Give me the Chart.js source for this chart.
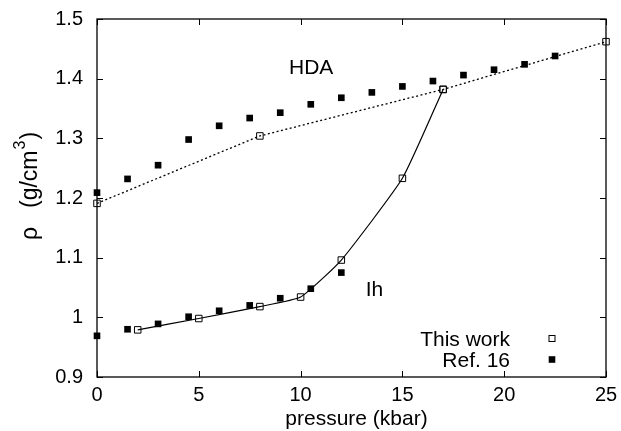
<!DOCTYPE html>
<html>
<head>
<meta charset="utf-8">
<script src="https://cdn.jsdelivr.net/npm/chart.js@4"></script>
<style>
  html, body { margin: 0; padding: 0; background: #ffffff; }
  #wrap { width: 621px; height: 431px; position: relative; }
</style>
</head>
<body>
<div id="wrap"><canvas id="c" width="621" height="431"></canvas></div>
<script>
// ---- data ----
const hdaThisWorkP   = [0, 8, 17, 25];
const hdaThisWorkRho = [1.191, 1.304, 1.382, 1.462];

const ihThisWorkP    = [2, 5, 8, 10, 12, 15, 17];
const ihThisWorkRho  = [0.979, 0.998, 1.018, 1.034, 1.096, 1.233, 1.382];

const ref16HdaP   = [0, 1.5, 3, 4.5, 6, 7.5, 9, 10.5, 12, 13.5, 15, 16.5, 18, 19.5, 21, 22.5];
const ref16HdaRho = [1.209, 1.232, 1.255, 1.298, 1.321, 1.334, 1.343, 1.357, 1.368, 1.377, 1.387, 1.396, 1.406, 1.415, 1.424, 1.438];

const ref16IhP   = [0, 1.5, 3, 4.5, 6, 7.5, 9, 10.5, 12];
const ref16IhRho = [0.969, 0.980, 0.989, 1.001, 1.011, 1.020, 1.032, 1.048, 1.075];

const xTickValues = [0, 5, 10, 15, 20, 25];
const xTickLabels = ['0', '5', '10', '15', '20', '25'];
const yTickValues = [0.9, 1.0, 1.1, 1.2, 1.3, 1.4, 1.5];
const yTickLabels = ['0.9', '1', '1.1', '1.2', '1.3', '1.4', '1.5'];

const legendLabels = ['This work', 'Ref. 16'];
const phaseLabels = ['HDA', 'Ih'];
const phaseLabelAt = [[9.43, 1.4075], [13.2, 1.0357]];   // data coords (kbar, g/cm3)

const xTitle = 'pressure (kbar)';

// ---- helpers ----
const FONT = '"Liberation Sans", Arial, Helvetica, sans-serif';
const pts = (xs, ys) => xs.map((x, i) => ({ x: x, y: ys[i] }));

function findLabel(list, values, v) {
  for (let i = 0; i < values.length; i++) {
    if (Math.abs(values[i] - v) < 1e-6) return list[i];
  }
  return '';
}

const openSq = {
  pointStyle: 'rect', pointRadius: 4.6, pointHoverRadius: 4.6,
  pointBorderColor: '#000', pointBackgroundColor: 'rgba(0,0,0,0)', pointBorderWidth: 1
};
const fillSq = {
  pointStyle: 'rect', pointRadius: 4.7, pointHoverRadius: 4.7,
  pointBorderColor: '#000', pointBackgroundColor: '#000', pointBorderWidth: 0
};

const decor = {
  id: 'decor',
  afterDraw(chart) {
    const ctx = chart.ctx;
    const a = chart.chartArea;
    const xs = chart.scales.x, ys = chart.scales.y;
    ctx.save();
    // frame
    ctx.strokeStyle = '#000';
    ctx.lineWidth = 1.3;
    ctx.strokeRect(a.left, a.top, a.right - a.left, a.bottom - a.top);
    // inward ticks
    const tl = 6;
    ctx.lineWidth = 1;
    ctx.beginPath();
    xs.ticks.forEach(t => {
      const px = Math.round(xs.getPixelForValue(t.value)) + 0.5;
      ctx.moveTo(px, a.bottom); ctx.lineTo(px, a.bottom - tl);
      ctx.moveTo(px, a.top); ctx.lineTo(px, a.top + tl);
    });
    ys.ticks.forEach(t => {
      const py = Math.round(ys.getPixelForValue(t.value)) + 0.5;
      ctx.moveTo(a.left, py); ctx.lineTo(a.left + tl, py);
      ctx.moveTo(a.right, py); ctx.lineTo(a.right - tl, py);
    });
    ctx.stroke();

    ctx.fillStyle = '#000';
    // x title
    ctx.font = '21px ' + FONT;
    ctx.textAlign = 'center';
    ctx.textBaseline = 'alphabetic';
    ctx.fillText(xTitle, (a.left + a.right) / 2 + 5, 425);

    // y title  "ρ  (g/cm³)"
    ctx.save();
    ctx.translate(37, 240);
    ctx.rotate(-Math.PI / 2);
    ctx.textAlign = 'left';
    ctx.font = '23px ' + FONT;
    ctx.fillText('ρ', 0, 0);
    let off = 32;
    ctx.fillText('(g/cm', off, 0);
    off += ctx.measureText('(g/cm').width + 1;
    ctx.font = '16px ' + FONT;
    ctx.fillText('3', off, -12);
    off += ctx.measureText('3').width + 1;
    ctx.font = '23px ' + FONT;
    ctx.fillText(')', off, 0);
    ctx.restore();

    // phase labels
    ctx.font = '21px ' + FONT;
    ctx.textAlign = 'left';
    phaseLabels.forEach((s, i) => {
      ctx.fillText(s, xs.getPixelForValue(phaseLabelAt[i][0]), ys.getPixelForValue(phaseLabelAt[i][1]));
    });

    // legend (text right-aligned, marker to the right)
    ctx.textAlign = 'right';
    const lx = a.right - 96, mx = a.right - 54;
    const rows = [a.bottom - 31, a.bottom - 10];
    legendLabels.forEach((s, i) => {
      ctx.fillText(s, lx, rows[i]);
      const cy = rows[i] - 7.5;
      if (i === 0) {
        ctx.lineWidth = 1;
        ctx.strokeRect(mx - 3, cy - 3, 6, 6);
      } else {
        ctx.fillRect(mx - 3.3, cy - 3.3, 6.6, 6.6);
      }
    });
    ctx.restore();
  }
};

new Chart(document.getElementById('c'), {
  type: 'scatter',
  data: {
    datasets: [
      Object.assign({
        label: 'This work (HDA)',
        data: pts(hdaThisWorkP, hdaThisWorkRho),
        showLine: true, borderColor: '#000', borderWidth: 1.3, borderDash: [2, 2.5],
        clip: false, order: 2
      }, openSq),
      Object.assign({
        label: 'This work (Ih)',
        data: pts(ihThisWorkP, ihThisWorkRho),
        showLine: true, borderColor: '#000', borderWidth: 1.2,
        tension: 0.15, clip: false, order: 2
      }, openSq),
      Object.assign({
        label: 'Ref. 16 (HDA)',
        data: pts(ref16HdaP, ref16HdaRho),
        showLine: false, clip: false, order: 1
      }, fillSq),
      Object.assign({
        label: 'Ref. 16 (Ih)',
        data: pts(ref16IhP, ref16IhRho),
        showLine: false, clip: false, order: 1
      }, fillSq)
    ]
  },
  options: {
    responsive: false,
    animation: false,
    devicePixelRatio: 1,
    layout: { padding: { left: 0, right: 15, top: 19, bottom: 0 } },
    plugins: { legend: { display: false }, tooltip: { enabled: false }, title: { display: false } },
    events: [],
    scales: {
      x: {
        type: 'linear', min: 0, max: 25,
        afterBuildTicks: s => { s.ticks = xTickValues.map(v => ({ value: v })); },
        afterFit: s => { s.height = 54; s.paddingLeft = 0; s.paddingRight = 0; },
        grid: { display: false, drawTicks: false },
        border: { display: false },
        ticks: {
          color: '#000', padding: 6, maxRotation: 0, autoSkip: false,
          font: { family: FONT, size: 20 },
          callback: v => findLabel(xTickLabels, xTickValues, v)
        },
        title: { display: false }
      },
      y: {
        type: 'linear', min: 0.9, max: 1.5,
        afterBuildTicks: s => { s.ticks = yTickValues.map(v => ({ value: v })); },
        afterFit: s => { s.width = 97; s.paddingTop = 0; s.paddingBottom = 0; },
        grid: { display: false, drawTicks: false },
        border: { display: false },
        ticks: {
          color: '#000', padding: 14, autoSkip: false,
          font: { family: FONT, size: 20 },
          callback: v => findLabel(yTickLabels, yTickValues, v)
        },
        title: { display: false }
      }
    }
  },
  plugins: [decor]
});
</script>
</body>
</html>
